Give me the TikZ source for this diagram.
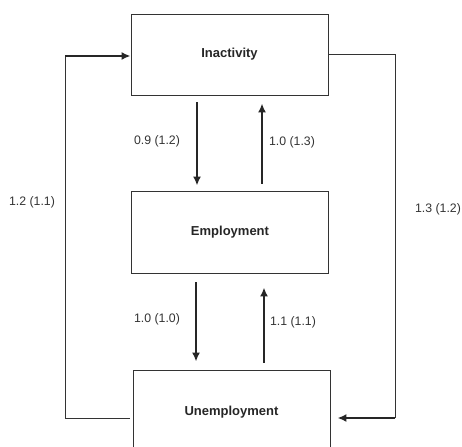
\documentclass[tikz,border=0pt]{standalone}
\usepackage{fontspec}
\setmainfont{Liberation Sans}
\usetikzlibrary{arrows.meta}

\begin{document}
\begin{tikzpicture}[x=1pt, y=-1pt,
	state/.style={draw=black!80, line width=0.9pt, minimum width=197pt, font=\fontsize{13}{15}\selectfont\bfseries, text=black!85},
	flow/.style={-{Latex[length=9pt,width=8pt]}, line width=2.2pt, draw=black!85},
	loop line/.style={line width=1pt, draw=black!80},
	rate/.style={font=\fontsize{12.3}{14}\selectfont, text=black!80}]
	\useasboundingbox (0,0) rectangle (462,446);

	\node[state, minimum height=81pt] (inact) at (229.5, 54.5) {Inactivity};
	\node[state, minimum height=82pt] (emp) at (230, 232) {Employment};
	\node[state, minimum height=84pt] (unemp) at (231.5, 412) {Unemployment};

	% flows between neighbouring states
	\draw[flow, shorten <=7pt, shorten >=5pt] ([xshift=-32.5pt]inact.south) -- ([xshift=-33pt]emp.north);
	\draw[flow, shorten <=7pt, shorten >=8pt] ([xshift=32pt]emp.north) -- ([xshift=32.5pt]inact.south);
	\draw[flow, shorten <=9pt, shorten >=8pt] ([xshift=-34pt]emp.south) -- ([xshift=-35.5pt]unemp.north);
	\draw[flow, shorten <=7pt, shorten >=14pt] ([xshift=32.5pt]unemp.north) -- ([xshift=34pt]emp.south);

	% outer loops
	\coordinate (lc) at (65, 56);
	\coordinate (rc) at (395, 418);
	\draw[loop line, shorten <=3pt] ([yshift=-6pt]unemp.west) -| (lc);
	\draw[flow] (lc) -- (lc -| inact.west);
	\draw[loop line] (inact.east) -| (rc);
	\draw[flow, shorten >=7pt] (rc) -- (rc -| unemp.east);

	\node[rate] (r1) at (157, 141) {0.9 (1.2)};
	\node[rate] (r2) at (292, 142) {1.0 (1.3)};
	\node[rate] (r3) at (157, 319) {1.0 (1.0)};
	\node[rate] (r4) at (293, 322) {1.1 (1.1)};
	\node[rate] (r5) at (32, 202) {1.2 (1.1)};
	\node[rate] (r6) at (438, 209) {1.3 (1.2)};
\end{tikzpicture}
\end{document}
